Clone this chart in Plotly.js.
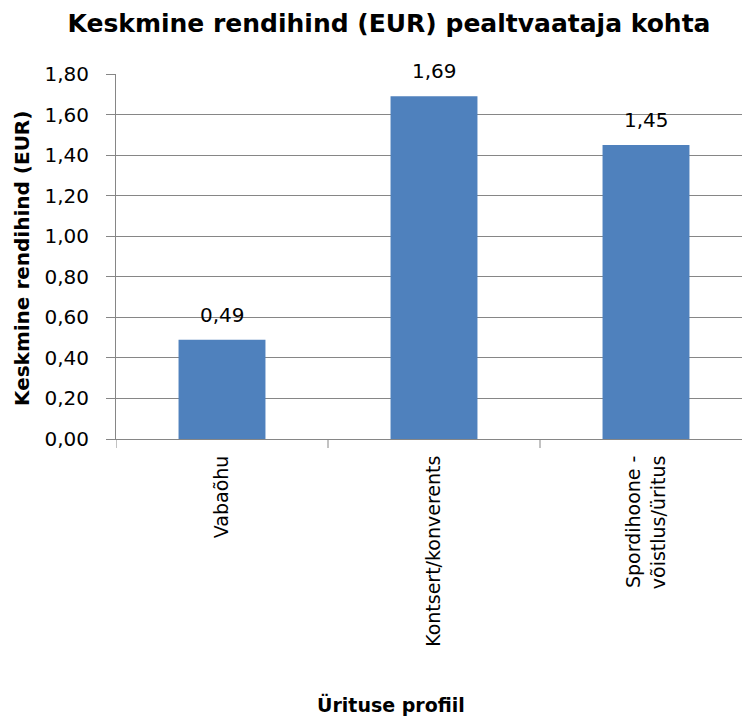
<!DOCTYPE html>
<html>
<head>
<meta charset="utf-8">
<script src="https://cdn.plot.ly/plotly-3.0.1.min.js"></script>
<style>body{margin:0;padding:0;background:#fff;}</style>
</head>
<body>
<div id="chart" style="width:742px;height:722px;"></div>
<script>
const categories = ["Vabaõhu", "Kontsert/konverents", "Spordihoone -<br>võistlus/üritus"];
const values = [0.49, 1.69, 1.45];
const valueLabels = ["0,49", "1,69", "1,45"];
const yTickVals = [0, 0.2, 0.4, 0.6, 0.8, 1.0, 1.2, 1.4, 1.6, 1.8];
const yTickText = ["0,00", "0,20", "0,40", "0,60", "0,80", "1,00", "1,20", "1,40", "1,60", "1,80"];

const FONT = "DejaVu Sans";
const W = 742, H = 722, L = 116, T = 74, B = 283;
const plotW = W - L, plotH = H - T - B;
const px2x = px => (px - L) / plotW;
const py2y = py => (H - B - py) / plotH;

const trace = {
  type: "bar",
  x: [0, 1, 2],
  y: values,
  width: 0.41,
  marker: {color: "#4F81BD", line: {width: 0}},
  hoverinfo: "none"
};

const annotations = values.map((v, i) => ({
  x: i, y: v, xref: "x", yref: "y",
  text: valueLabels[i], showarrow: false,
  yanchor: "bottom", yshift: 11,
  font: {family: FONT, size: 20, color: "#000"}
}));
annotations.push({
  x: px2x(391), y: py2y(704), xref: "paper", yref: "paper",
  text: "<b>Ürituse profiil</b>", showarrow: false,
  xanchor: "center", yanchor: "middle",
  font: {family: FONT, size: 19, color: "#000"}
});
annotations.push({
  x: px2x(22), y: py2y(259), xref: "paper", yref: "paper",
  text: "<b>Keskmine rendihind (EUR)</b>", showarrow: false, textangle: -90,
  xanchor: "center", yanchor: "middle",
  font: {family: FONT, size: 20, color: "#000"}
});

const layout = {
  width: W, height: H,
  margin: {l: L, r: 0, t: T, b: B},
  paper_bgcolor: "#fff", plot_bgcolor: "#fff",
  showlegend: false,
  title: {
    text: "<b>Keskmine rendihind (EUR) pealtvaataja kohta</b>",
    font: {family: FONT, size: 25, color: "#000"},
    x: 389 / W, xanchor: "center", xref: "container",
    y: 1 - 23 / H, yanchor: "middle", yref: "container"
  },
  xaxis: {
    type: "linear",
    range: [-0.5, 2.5 - 10 / 212],
    tickmode: "array",
    tickvals: [0, 1, 2],
    ticktext: categories,
    tickangle: -90,
    ticks: "",
    ticklabelstandoff: 8,
    showgrid: false,
    zeroline: false,
    showline: true, linecolor: "#868686", linewidth: 1,
    tickfont: {family: FONT, size: 19, color: "#000"},
    fixedrange: true
  },
  yaxis: {
    range: [0, 1.8],
    tickmode: "array",
    tickvals: yTickVals,
    ticktext: yTickText,
    ticks: "outside", ticklen: 9, tickcolor: "#868686", tickwidth: 1,
    ticklabelstandoff: 13,
    showgrid: true, gridcolor: "#868686", gridwidth: 1,
    zeroline: false,
    showline: true, linecolor: "#868686", linewidth: 1,
    tickfont: {family: FONT, size: 20, color: "#000"},
    fixedrange: true
  },
  shapes: [0, 1, 2].map(i => ({
    type: "line", xref: "x", yref: "paper",
    x0: i - 0.5, x1: i - 0.5, y0: 0, y1: -9 / plotH,
    line: {color: "#868686", width: 1}
  })),
  annotations: annotations
};

Plotly.newPlot("chart", [trace], layout, {displayModeBar: false, staticPlot: true});
</script>
</body>
</html>
